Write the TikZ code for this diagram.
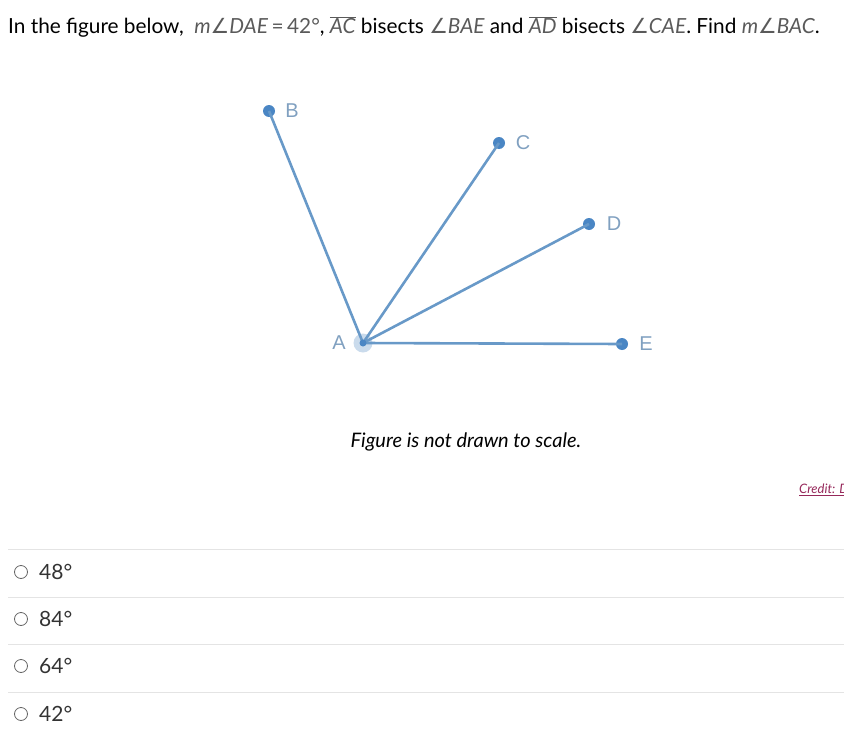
\documentclass[tikz,border=0pt]{standalone}
\usepackage{fontspec}
\setmainfont{Lato}
\newfontfamily\symf{DejaVu Sans}
\newfontfamily\labf{Liberation Sans}
\definecolor{ln}{RGB}{104,153,200}
\definecolor{dot}{RGB}{74,134,196}
\definecolor{lab}{RGB}{128,160,192}
\definecolor{mth}{RGB}{90,90,90}
\definecolor{sep}{RGB}{228,228,228}
\definecolor{cred}{RGB}{150,40,90}
\newcommand{\ang}{{\symf\char"2220}}
\newcommand{\ovl}[1]{$\overline{\hbox{\itshape #1}}$}
\begin{document}
\begin{tikzpicture}[x=1pt,y=-1pt,
  ray/.style={ln,line width=2.6pt},
  pt/.style={circle,fill=dot,inner sep=0pt,minimum size=12pt},
  lbl/.style={text=lab,font=\labf\fontsize{20}{20}\selectfont,inner sep=0pt},
  sepl/.style={sep,line width=1pt},
  radio/.style={circle,draw=black!60,line width=0.8pt,inner sep=0pt,minimum size=13pt},
  ans/.style={anchor=west,inner sep=0pt,text=black!80,font=\fontsize{21}{21}\selectfont}]
\useasboundingbox (0,0) rectangle (844,744);
\clip (0,0) rectangle (844,744);
\node[anchor=west,inner sep=0pt,font=\fontsize{20.8}{21}\selectfont] (title) at (8,27)
 {In the figure below, \ {\color{mth}\itshape m\ang DAE\/\,}{\color{mth}=\,42°}, {\color{mth}\ovl{AC}} bisects {\color{mth}\ang\itshape BAE} and {\color{mth}\ovl{AD}} bisects {\color{mth}\ang\itshape CAE}. Find {\color{mth}\itshape m\ang BAC}.};
\coordinate (A) at (363,343);
\node[pt] (B) at (269,111) {};
\node[pt] (C) at (499,143) {};
\node[pt] (D) at (589,224) {};
\node[pt] (E) at (622,344) {};
\fill[ln!35] (A) circle (9.5);
\draw[ray] (A) -- (B.center);
\draw[ray] (A) -- (C.center);
\draw[ray] (A) -- (D.center);
\draw[ray] (A) -- (E.center);
\node[circle,fill=dot,inner sep=0pt,minimum size=7pt] (Ad) at (A) {};
\node[lbl] (lB) at (292,111) {B};
\node[lbl] (lC) at (523,143) {C};
\node[lbl] (lD) at (614,224) {D};
\node[lbl] (lA) at (339,343) {A};
\node[lbl] (lE) at (646,344) {E};
\node[inner sep=0pt,font=\fontsize{20}{20}\selectfont\itshape] (cap) at (466,442) {Figure is not drawn to scale.};
\node[anchor=west,inner sep=0pt,text=cred,font=\fontsize{13}{13}\selectfont\itshape] (credit) at (799,490) {\underline{Credit: D}};
\foreach \y/\n in {549/s1,597/s2,644/s3,692/s4} \coordinate (\n) at (8,\y);
\foreach \n in {s1,s2,s3,s4} \draw[sepl] (\n) -- ++(840,0);
\foreach \y/\v in {572/48,619/84,666/64,714/42}{
  \node[radio] (r\v) at (21,\y) {};
  \node[ans] (t\v) at (39,\y) {\v°};
}
\end{tikzpicture}
\end{document}
